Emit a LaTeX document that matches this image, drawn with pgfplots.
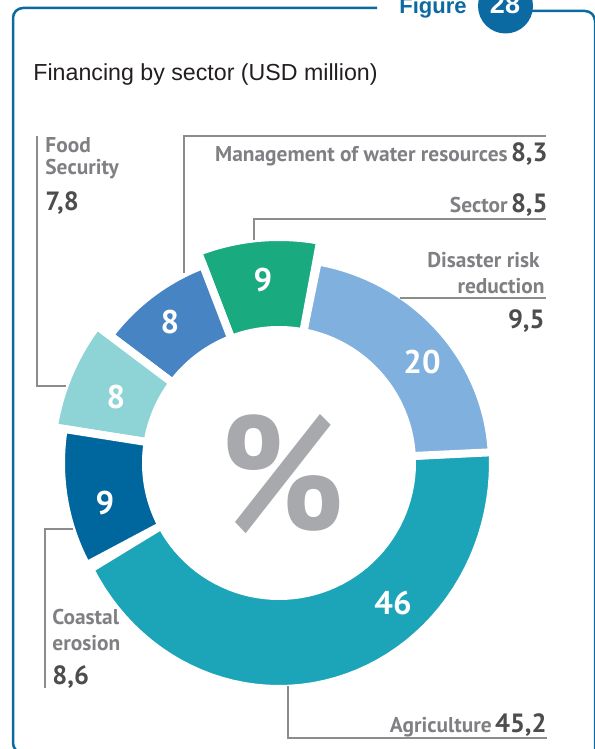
\documentclass[border=0pt]{standalone}
\usepackage{pgfplots}
\pgfplotsset{compat=1.18}
\usepackage{fontspec}
\setmainfont{Liberation Sans}
\newfontfamily\din{PT Sans}
\definecolor{cAgri}{HTML}{1CA5B8}
\definecolor{cDis}{HTML}{80B0DE}
\definecolor{cGreen}{HTML}{1AAA80}
\definecolor{cWater}{HTML}{4784C4}
\definecolor{cFood}{HTML}{8ED4D6}
\definecolor{cCoast}{HTML}{00679E}
\definecolor{frameblue}{HTML}{0A6AA1}
\definecolor{lgray}{HTML}{7F8083}
\definecolor{vgray}{HTML}{4D4D4F}
\definecolor{pgray}{HTML}{A7A9AC}
\definecolor{cline}{HTML}{8C8C8C}
\definecolor{ttl}{HTML}{231F20}
\newcommand\nm{\din\bfseries\fontsize{10.7}{12}\selectfont\color{lgray}}
\newcommand\vl{\din\bfseries\fontsize{13.2}{14}\selectfont\color{vgray}}
\newcommand\rl{\din\bfseries\fontsize{16.4}{18}\selectfont\color{white}}
% segment: colour, start angle, end angle, outer rx, outer ry, inner r
\newcommand{\seg}[6]{%
 \addplot[fill=#1, draw=white, line width=4pt, domain=0:2.2, samples=111, variable=\t]
 ({279 + (\t<=1.1 ? #4 : #6)*cos(\t<=1.1 ? #2+(#3-#2)*min(\t,1) : #3-(#3-#2)*max(\t-1.2,0))},
  {463 - (\t<=1.1 ? #5 : #6)*sin(\t<=1.1 ? #2+(#3-#2)*min(\t,1) : #3-(#3-#2)*max(\t-1.2,0))}) -- cycle;
}
\begin{document}
\begin{tikzpicture}
\begin{axis}[scale only axis, width=297pt, height=374.5pt,
  xmin=0, xmax=594, ymin=0, ymax=749, y dir=reverse,
  hide axis, clip=false]
\coordinate (TL) at (axis cs:0,0);
\coordinate (BR) at (axis cs:594,749);
% donut segments (angles, degrees)
\seg{cAgri}{208}{363}{214}{226}{133}
\seg{cDis}{3}{79.5}{213}{205}{133}
\seg{cGreen}{79.5}{111}{226}{226}{133}
\seg{cWater}{111}{143}{212}{212}{133}
\seg{cFood}{143}{171}{228}{228}{133}
\seg{cCoast}{171}{208}{218}{218}{133}
% ring labels
\node[font=\rl] at (axis cs:263,280) {9};
\node[font=\rl] at (axis cs:170,322) {8};
\node[font=\rl] at (axis cs:116,397) {8};
\node[font=\rl] at (axis cs:105,503) {9};
\node[font=\rl] at (axis cs:422,362) {20};
\node[font=\rl] at (axis cs:393,603) {46};
\node[font=\din\bfseries\fontsize{82}{82}\selectfont\color{pgray}, inner sep=0pt] at (axis cs:282,474.5) {\scalebox{0.9}[1]{\%}};
% callout lines
\draw[cline, line width=0.6pt] (axis cs:66,386) -- (axis cs:37,386) -- (axis cs:37,136);
\draw[cline, line width=0.6pt] (axis cs:184,273) -- (axis cs:184,136) -- (axis cs:546,136);
\draw[cline, line width=0.6pt] (axis cs:254,240) -- (axis cs:254,219) -- (axis cs:546,219);
\draw[cline, line width=0.6pt] (axis cs:400,298) -- (axis cs:546,298);
\draw[cline, line width=0.6pt] (axis cs:73,529) -- (axis cs:45,529) -- (axis cs:45,688);
\draw[cline, line width=0.6pt] (axis cs:288,686) -- (axis cs:288,738) -- (axis cs:547,738);
% labels
\node[anchor=base west, inner sep=0pt, font=\nm] at (axis cs:45,152) {Food};
\node[anchor=base west, inner sep=0pt, font=\nm] at (axis cs:45,174) {Security};
\node[anchor=base west, inner sep=0pt, font=\vl] at (axis cs:45,210) {7,8};
\node[anchor=base east, inner sep=0pt] at (axis cs:548,162) {{\nm Management of water resources}\,{\vl 8,3}};
\node[anchor=base east, inner sep=0pt] at (axis cs:548,212) {{\nm Sector}\,{\vl 8,5}};
\node[anchor=base east, inner sep=0pt, font=\nm] at (axis cs:540,267) {Disaster risk};
\node[anchor=base east, inner sep=0pt, font=\nm] at (axis cs:545,293) {reduction};
\node[anchor=base east, inner sep=0pt, font=\vl] at (axis cs:545,328) {9,5};
\node[anchor=base west, inner sep=0pt, font=\nm] at (axis cs:52,624) {Coastal};
\node[anchor=base west, inner sep=0pt, font=\nm] at (axis cs:52,650) {erosion};
\node[anchor=base west, inner sep=0pt, font=\vl] at (axis cs:52,684) {8,6};
\node[anchor=base east, inner sep=0pt] at (axis cs:547,732) {{\nm Agriculture}\,{\vl 45,2}};
% title
\node[anchor=base west, inner sep=0pt, font=\fontsize{11.6}{13}\selectfont\color{ttl}] at (axis cs:33,81) {Financing by sector (USD million)};
% frame and header
\draw[frameblue, line width=1.25pt, rounded corners=5pt] (axis cs:377,8) -- (axis cs:13,8) -- (axis cs:13,753) -- (axis cs:40,753);
\draw[frameblue, line width=1.25pt, rounded corners=5pt] (axis cs:520,11) -- (axis cs:595,11) -- (axis cs:595,760);
\fill[frameblue] (axis cs:505.5,6) circle[radius=13.75pt];
\node[anchor=base east, inner sep=0pt, font=\bfseries\fontsize{11}{12}\selectfont\color{frameblue}] at (axis cs:467,14) {Figure};
\node[anchor=base, inner sep=0pt, font=\bfseries\fontsize{13.5}{14}\selectfont\color{white}] at (axis cs:505,14) {28};
\end{axis}
\pgfresetboundingbox
\useasboundingbox (TL) rectangle (BR);
\end{tikzpicture}
\end{document}
